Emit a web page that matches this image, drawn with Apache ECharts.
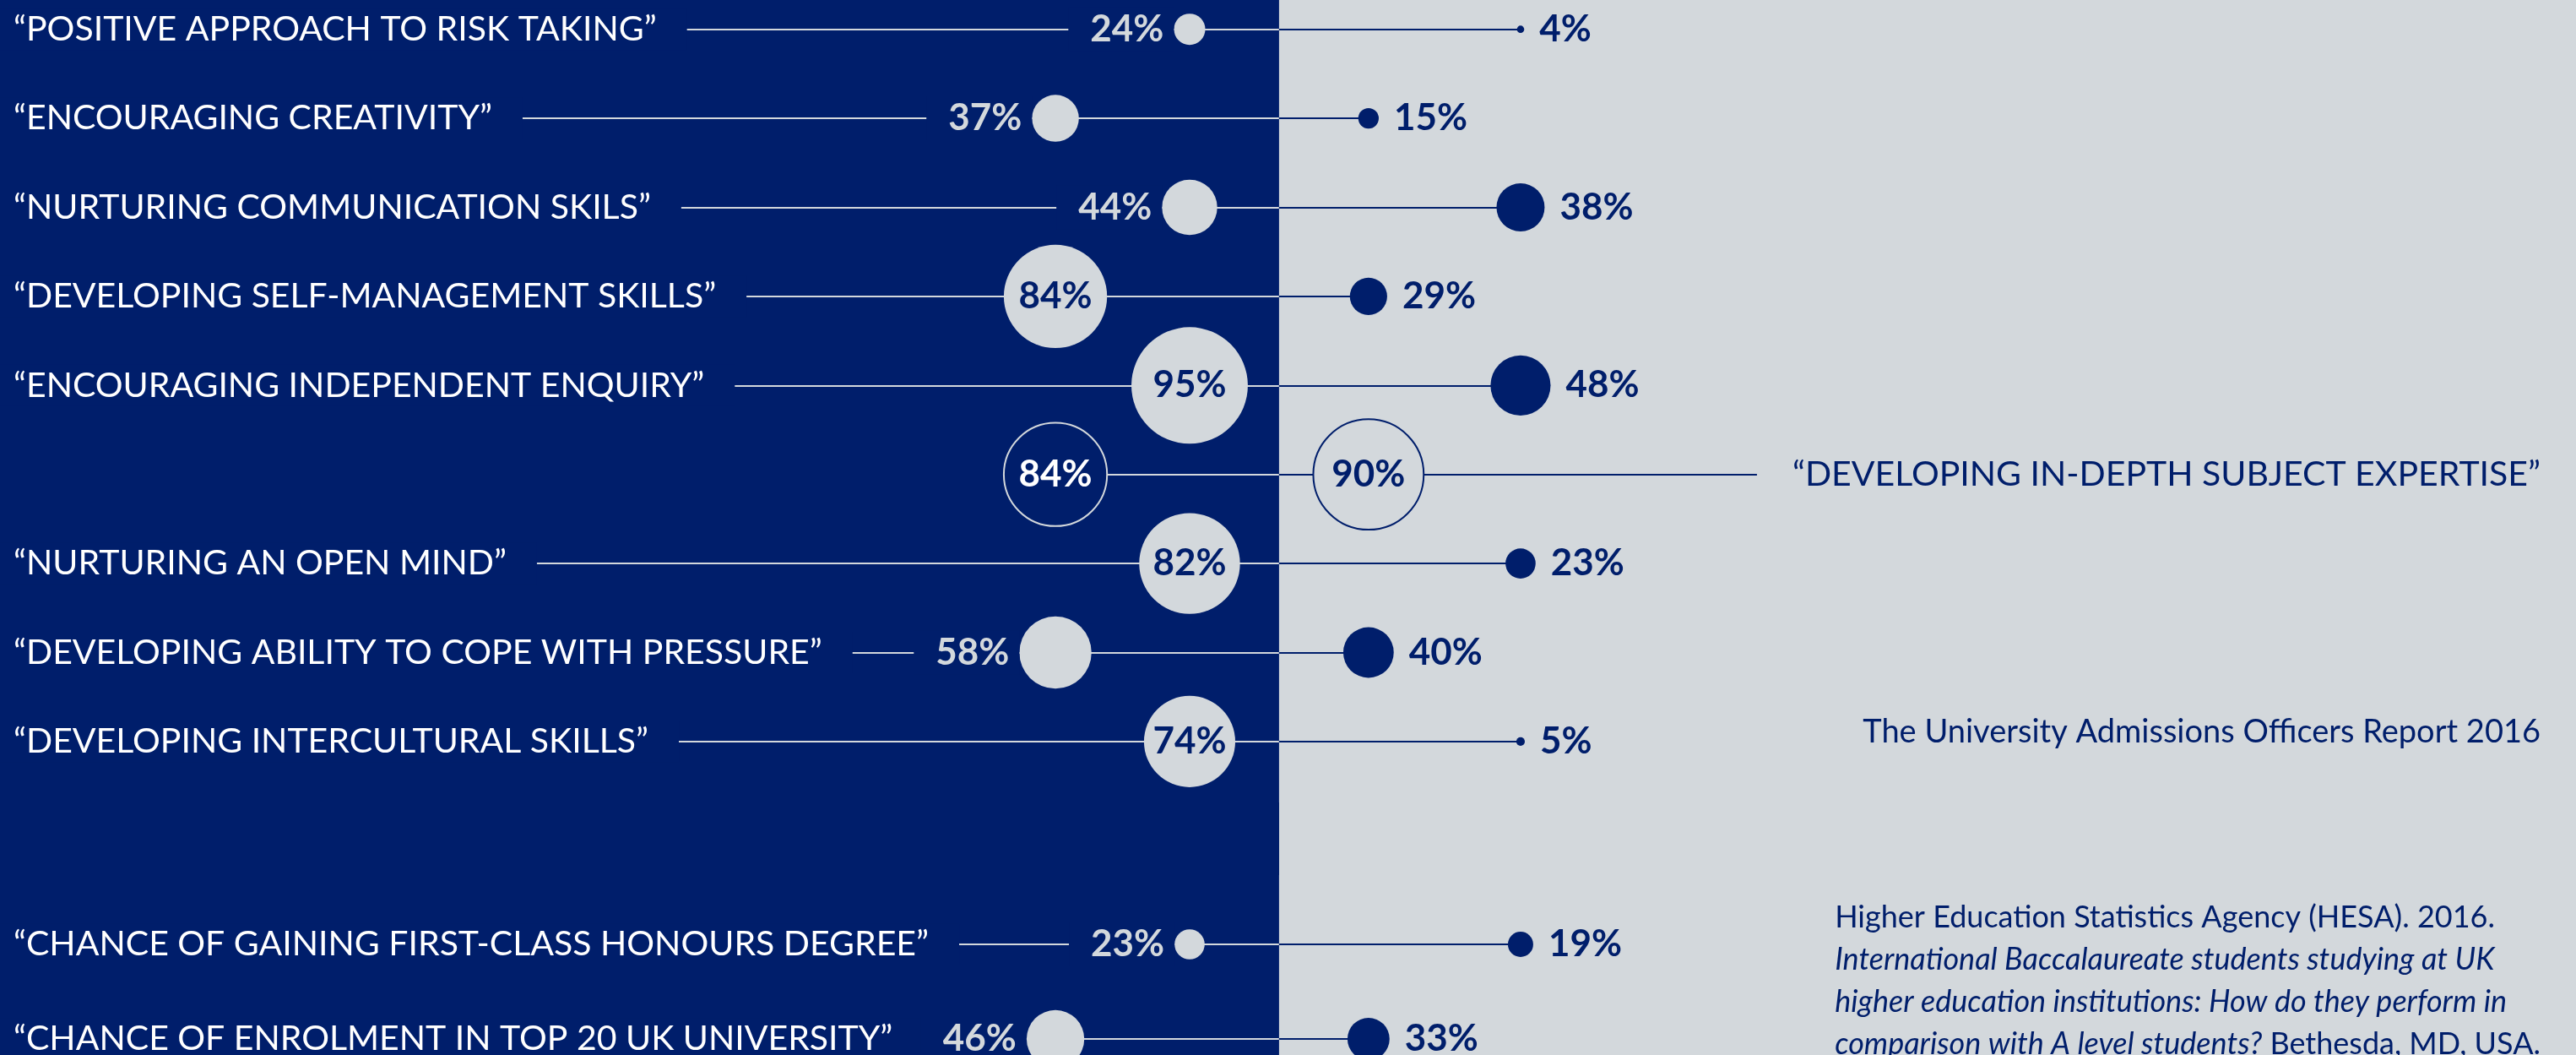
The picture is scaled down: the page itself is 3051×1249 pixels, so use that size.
<!DOCTYPE html>
<html>
<head>
<meta charset="utf-8">
<script src="https://cdn.jsdelivr.net/npm/echarts@6/dist/echarts.min.js"></script>
<style>
  html, body { margin: 0; padding: 0; background: #d3d8dc; }
  #main { width: 3051px; height: 1249px; }
</style>
</head>
<body>
<div id="main"></div>
<script>
// what admissions officers think each qualification is good at (% agreeing)
const skills = [
  'POSITIVE APPROACH TO RISK TAKING',
  'ENCOURAGING CREATIVITY',
  'NURTURING COMMUNICATION SKILS',
  'DEVELOPING SELF-MANAGEMENT SKILLS',
  'ENCOURAGING INDEPENDENT ENQUIRY',
  'DEVELOPING IN-DEPTH SUBJECT EXPERTISE',
  'NURTURING AN OPEN MIND',
  'DEVELOPING ABILITY TO COPE WITH PRESSURE',
  'DEVELOPING INTERCULTURAL SKILLS'
];
const skillsIB = [24, 37, 44, 84, 95, 84, 82, 58, 74];
const skillsAL = [4, 15, 38, 29, 48, 90, 23, 40, 5];

// HESA outcomes
const outcomes = [
  'CHANCE OF GAINING FIRST-CLASS HONOURS DEGREE',
  'CHANCE OF ENROLMENT IN TOP 20 UK UNIVERSITY'
];
const outcomesIB = [23, 46];
const outcomesAL = [19, 33];

// the one row where A levels come out on top gets its label on the right
const featured = 'DEVELOPING IN-DEPTH SUBJECT EXPERTISE';

const sourceSkills = 'The University Admissions Officers Report 2016';
const sourceOutcomes = [
  ['r', 'Higher Education Statistics Agency (HESA). 2016.'],
  ['i', 'International Baccalaureate students studying at UK'],
  ['i', 'higher education institutions: How do they perform in'],
  ['i', 'comparison with A level students?', 'r', ' Bethesda, MD, USA.']
];

const NAVY = '#001e6b';
const GREY = '#d3d8dc';
const FONT = 'Lato';

// x axis: panel divider at 0, bubbles sit in two staggered lanes each side
const X_MIN = -14.3, X_MAX = 14.5;
const NEAR = 1, FAR_IB = 2.5, FAR_AL = 2.7;

const size = v => 1.42 * v + 3;
const pctLabel = { show: true, fontFamily: FONT, fontWeight: 'bold', fontSize: 44, formatter: p => p.value[2] + '%' };
const labelFont = { fontFamily: FONT, fontSize: 41 };

// one grid per block: skills (blank row below), outcomes (blank row above)
const blocks = [
  { names: skills, ib: skillsIB, al: skillsAL, cats: skills.concat(['']) },
  { names: outcomes, ib: outcomesIB, al: outcomesAL, cats: [''].concat(outcomes) }
];

const grids = [
  { left: 0, right: 0, top: -18, bottom: 213, containLabel: false, outerBoundsMode: 'none' },
  { left: 0, right: 0, top: 950, bottom: -37, containLabel: false, outerBoundsMode: 'none' }
];

const xAxes = blocks.map((b, gi) => ({ type: 'value', gridIndex: gi, min: X_MIN, max: X_MAX, show: false }));

const hidden = { axisLine: { show: false }, axisTick: { show: false }, splitLine: { show: false } };
const yAxes = [];
blocks.forEach((b, gi) => {
  yAxes.push(Object.assign({
    type: 'category', gridIndex: gi, data: b.cats, inverse: true, position: 'left', z: 3,
    axisLabel: {
      inside: true, margin: 0, interval: 0,
      formatter: v => (v && v !== featured) ? '{q|“' + v + '”}' : '',
      rich: { q: Object.assign({ color: '#fff', backgroundColor: NAVY, padding: [4, 36, 4, 16] }, labelFont) }
    }
  }, hidden));
});
// right hand label for the featured row
yAxes.push(Object.assign({
  type: 'category', gridIndex: 0, data: blocks[0].cats, inverse: true, position: 'right', z: 3,
  axisLabel: {
    inside: true, margin: 0, interval: 0,
    formatter: v => v === featured ? '{q|“' + v + '”}' : '',
    rich: { q: Object.assign({ color: NAVY, backgroundColor: GREY, padding: [4, 42, 4, 42] }, labelFont) }
  }
}, hidden));

const series = [];
blocks.forEach((b, gi) => {
  const items = b.names.map((name, k) => ({
    name: name,
    y: b.cats.indexOf(name),
    ib: b.ib[k],
    al: b.al[k],
    leftX: -(k % 2 ? FAR_IB : NEAR),
    rightX: k % 2 ? NEAR : FAR_AL
  }));
  const axes = { xAxisIndex: gi, yAxisIndex: gi };

  // dark IB panel
  series.push(Object.assign({
    type: 'scatter', data: [], z: 0, silent: true,
    markArea: { silent: true, z: 0, itemStyle: { color: NAVY, opacity: 1 }, data: [[{ xAxis: X_MIN }, { xAxis: 0 }]] }
  }, axes));

  // connector lines; label backgrounds hide the ends next to the text
  series.push(Object.assign({
    type: 'lines', coordinateSystem: 'cartesian2d', z: 2, silent: true,
    lineStyle: { color: GREY, width: 2, opacity: 1 },
    data: items.map(d => ({ coords: [[d.name === featured ? d.leftX : X_MIN, d.y], [0, d.y]] }))
  }, axes));
  series.push(Object.assign({
    type: 'lines', coordinateSystem: 'cartesian2d', z: 2, silent: true,
    lineStyle: { color: NAVY, width: 2, opacity: 1 },
    data: items.map(d => ({ coords: [[0, d.y], [d.name === featured ? X_MAX : d.rightX, d.y]] }))
  }, axes));

  series.push(Object.assign({
    name: 'IB', type: 'scatter', z: 4, silent: true, label: pctLabel,
    data: items.map(d => {
      const outline = d.name === featured;
      return {
        value: [d.leftX, d.y, d.ib],
        symbolSize: size(d.ib),
        itemStyle: outline ? { color: NAVY, borderColor: GREY, borderWidth: 2, opacity: 1 } : { color: GREY, opacity: 1 },
        label: d.ib >= 70
          ? { position: 'inside', color: outline ? '#fff' : NAVY }
          : { position: 'left', distance: 0, color: GREY, backgroundColor: NAVY, padding: [4, 12, 4, 26] }
      };
    })
  }, axes));

  series.push(Object.assign({
    name: 'A level', type: 'scatter', z: 4, silent: true, label: pctLabel,
    data: items.map(d => {
      const outline = d.name === featured;
      return {
        value: [d.rightX, d.y, d.al],
        symbolSize: size(d.al),
        itemStyle: outline ? { color: GREY, borderColor: NAVY, borderWidth: 2, opacity: 1 } : { color: NAVY, opacity: 1 },
        label: d.al >= 70
          ? { position: 'inside', color: NAVY }
          : { position: 'right', distance: 18, color: NAVY }
      };
    })
  }, axes));
});

const option = {
  backgroundColor: GREY,
  animation: false,
  grid: grids,
  xAxis: xAxes,
  yAxis: yAxes,
  title: [
    {
      text: sourceSkills, right: 42, top: 842, padding: 0, z: 10,
      textStyle: { color: NAVY, fontFamily: FONT, fontWeight: 'normal', fontSize: 38, lineHeight: 50 }
    },
    {
      text: sourceOutcomes.map(line => {
        let s = '';
        for (let i = 0; i < line.length; i += 2) s += '{' + line[i] + '|' + line[i + 1] + '}';
        return s;
      }).join('\n'),
      right: 42, top: 1061, padding: 0, z: 10,
      textStyle: {
        align: 'right', fontWeight: 'normal',
        rich: {
          r: { color: NAVY, fontFamily: FONT, fontWeight: 'normal', fontSize: 36, lineHeight: 50 },
          i: { color: NAVY, fontFamily: FONT, fontWeight: 'normal', fontStyle: 'italic', fontSize: 36, lineHeight: 50 }
        }
      }
    }
  ],
  series: series
};

const chart = echarts.init(document.getElementById('main'));
chart.setOption(option);
</script>
</body>
</html>
